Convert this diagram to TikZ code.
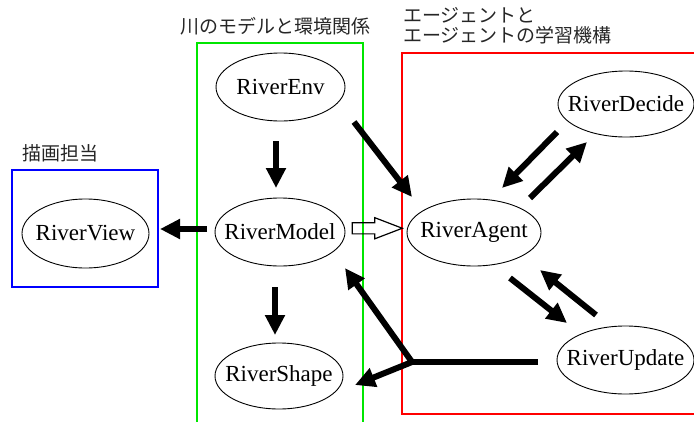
\documentclass[tikz,border=0pt]{standalone}
\usepackage{fontspec}
\setmainfont{Liberation Serif}
\newfontfamily\jp{Noto Sans CJK JP}
\usetikzlibrary{arrows.meta,shapes.geometric,shapes.arrows,calc}
\begin{document}
\begin{tikzpicture}[x=1pt,y=-1pt,
  ell/.style={draw, ellipse, line width=0.9pt, inner sep=0, label={[font=\fontsize{23}{27}\selectfont, inner sep=0]center:#1}},
  arr/.style={line width=6pt, -{Triangle[length=20pt,width=19pt]}},
  lbl/.style={font=\jp\fontsize{19}{20}\selectfont, inner sep=0, text=black!85},
  grp/.style={line width=1.8pt}]
\useasboundingbox (0,0) rectangle (694,421);
% groups
\draw[grp, draw={rgb,255:red,0;green,230;blue,0}] (197,430) -- (197,43) -- (363,43) -- (363,430);
\draw[grp, draw={rgb,255:red,255;green,0;blue,0}] (700,53) -- (402,53) -- (402,414) -- (700,414);
\draw[grp, draw={rgb,255:red,0;green,0;blue,255}] (12,170) rectangle (158,287);
\node[lbl] (lgreen) at (275.5,26) {川のモデルと環境関係};
\node[lbl, anchor=north west, align=left] (lred) at (403,7.5) {エージェントと\\エージェントの学習機構};
\node[lbl, anchor=west] (lblue) at (22,153) {描画担当};
% nodes
\node[ell=RiverEnv, minimum width=129pt, minimum height=68pt] (env) at (280.5,87) {};
\node[ell=RiverModel, minimum width=130pt, minimum height=68pt] (model) at (280,232) {};
\node[ell=RiverShape, minimum width=128pt, minimum height=66pt] (shape) at (279,376) {};
\node[ell=RiverView, minimum width=127pt, minimum height=69pt] (view) at (85.5,233.5) {};
\node[ell=RiverAgent, minimum width=134pt, minimum height=67pt] (agent) at (474,232.5) {};
\node[ell=RiverDecide, minimum width=136pt, minimum height=66pt] (decide) at (626,104) {};
\node[ell=RiverUpdate, minimum width=137pt, minimum height=68pt] (update) at (625.5,360) {};
% connector end points
\coordinate (e1) at (276,141); \coordinate (m1) at (276,188);
\coordinate (m2) at (207,229); \coordinate (v1) at (160,229);
\coordinate (e2) at (354,122); \coordinate (a1) at (412,197);
\coordinate (m3) at (275,287); \coordinate (s1) at (275,335);
\coordinate (a2) at (530,198); \coordinate (d1) at (587,142);
\coordinate (d2) at (557,132); \coordinate (a3) at (502,188);
\coordinate (a4) at (510,278); \coordinate (u1) at (567,323);
\coordinate (u2) at (596,315); \coordinate (a5) at (540,270);
\coordinate (u3) at (538,362); \coordinate (j) at (412,362);
\coordinate (m4) at (345,268); \coordinate (s2) at (355,385);
% connectors
\draw[arr] (e1) -- (m1);
\draw[arr] (m2) -- (v1);
\draw[arr] (e2) -- (a1);
\draw[arr] (m3) -- (s1);
\draw[arr] (a2) -- (d1);
\draw[arr] (d2) -- (a3);
\draw[arr] (a4) -- (u1);
\draw[arr] (u2) -- (a5);
\draw[line width=6pt, line join=miter] (u3) -- (j);
\draw[arr] (j) -- (m4);
\draw[arr] (j) -- (s2);
\node[single arrow, draw, line width=1.2pt, inner sep=5pt, minimum height=50pt,
  single arrow head extend=5pt, single arrow tip angle=42, xshift=-6pt, yshift=4pt]
  (flow) at ($(model.east)!0.5!(agent.west)$) {};
\end{tikzpicture}
\end{document}
